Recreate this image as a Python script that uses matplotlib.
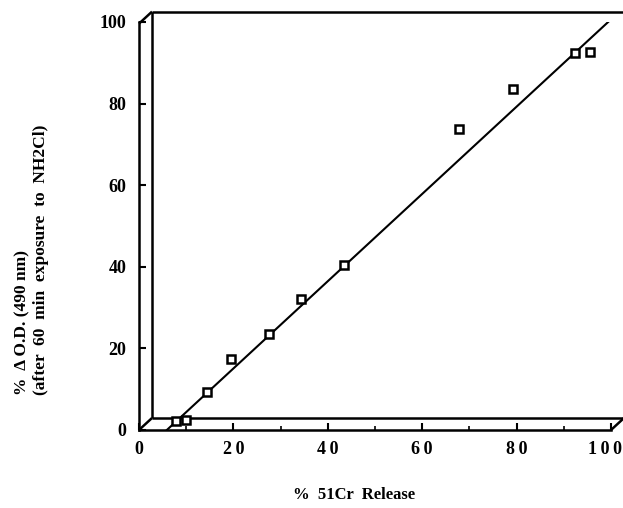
import matplotlib
matplotlib.use("Agg")
import matplotlib.pyplot as plt
import matplotlib.transforms as mtransforms
import numpy as np

# Datos
cr_release = [7.8, 10.0, 14.4, 19.5, 27.5, 34.3, 43.4, 67.8, 79.2, 92.4, 95.6]
delta_od = [2.3, 2.4, 9.3, 17.4, 23.5, 32.1, 40.4, 73.8, 83.6, 92.4, 92.6]
linea_x = [5.9, 99.4]
linea_y = [0.0, 100.0]
xticks_mayores = [0, 20, 40, 60, 80, 100]
xticks_etiquetas = ["0", "2\u20090", "4\u20090", "6\u20090", "8\u20090", "1\u20090\u20090"]
yticks_mayores = [0, 20, 40, 60, 80, 100]

plt.rcParams["font.family"] = ["Liberation Serif", "DejaVu Serif"]
plt.rcParams["font.weight"] = "bold"

fig = plt.figure(figsize=(6.23, 5.08), dpi=100)
W, H = 623, 508
ax = fig.add_axes([139 / W, 1 - 430 / H, (611 - 139) / W, (430 - 22) / H])
ax.set_xlim(0, 100)
ax.set_ylim(0, 100)

for lado in ["top", "right"]:
    ax.spines[lado].set_visible(False)
for lado in ["left", "bottom"]:
    ax.spines[lado].set_linewidth(1.8)

# Ticks hacia adentro
ax.set_xticks(xticks_mayores)
ax.set_xticklabels(xticks_etiquetas)
ax.set_xticks(np.arange(10, 100, 20), minor=True)
ax.set_yticks(yticks_mayores)
ax.tick_params(axis="both", which="major", direction="in", length=5, width=1.5,
               labelsize=13, pad=8)
ax.tick_params(axis="x", which="minor", direction="in", length=3, width=1.2)
ax.tick_params(axis="y", which="major", pad=9)
for t in ax.get_xticklabels() + ax.get_yticklabels():
    t.set_fontweight("bold")

# La etiqueta "1 0 0" se corre un poco para que no se corte en el borde
ultima = ax.get_xticklabels()[-1]
ultima.set_horizontalalignment("right")
ultima.set_transform(ultima.get_transform() +
                     mtransforms.ScaledTranslation(11 / 100, 0, fig.dpi_scale_trans))

# Caja "3D": pared trasera desplazada
desplaz = mtransforms.ScaledTranslation(13 / 100, 12 / 100, fig.dpi_scale_trans)
atras = ax.transData + desplaz
kw = dict(color="black", lw=1.8, clip_on=False, solid_capstyle="butt")
ax.plot([0, 0], [0, 99.6], transform=atras, **kw)
ax.plot([0, 104], [99.6, 99.6], transform=atras, **kw)
ax.plot([0, 100], [0, 0], transform=atras, **kw)
for (x0, y0) in [(0, 0), (100, 0), (0, 99.6)]:
    p0 = ax.transData.transform((x0, y0))
    p1 = atras.transform((x0, y0))
    ax.plot([p0[0], p1[0]], [p0[1], p1[1]], transform=None, **kw)

# Datos y recta de regresion
ax.plot(linea_x, linea_y, color="black", lw=1.5)
ax.plot(cr_release, delta_od, linestyle="none", marker="s", markersize=6,
        markerfacecolor="white", markeredgecolor="black", markeredgewidth=1.8,
        clip_on=False)

# Etiquetas de ejes
fig.text(354 / W, 1 - 495 / H, "%  51Cr  Release", ha="center", va="center",
         fontsize=12, fontweight="bold")
fig.text(22 / W, 1 - 395 / H, "%  \u0394 O.D. (490 nm)", rotation=90,
         rotation_mode="anchor", ha="left", va="center", fontsize=12.5,
         fontweight="bold")
fig.text(41 / W, 1 - 395 / H, "(after  60  min  exposure  to  NH2Cl)", rotation=90,
         rotation_mode="anchor", ha="left", va="center", fontsize=12.5,
         fontweight="bold")

fig.savefig("out.png", dpi=100)
